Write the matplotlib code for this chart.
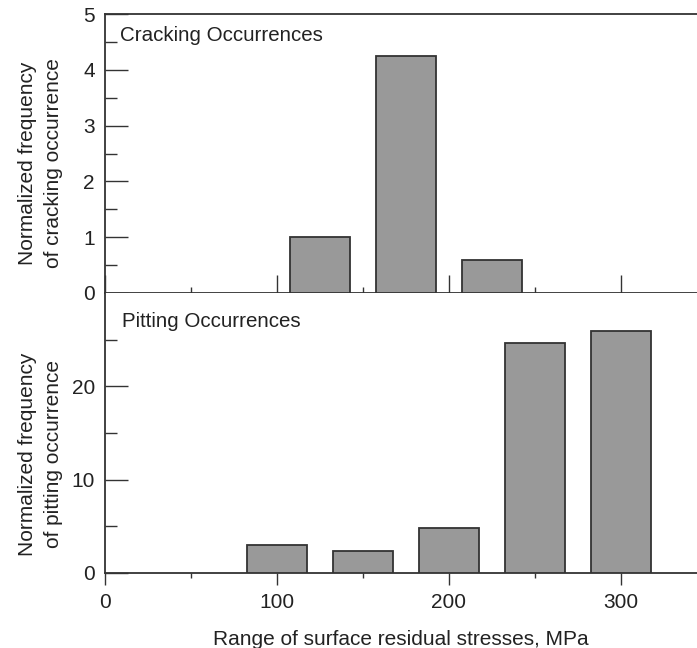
import matplotlib
matplotlib.use("Agg")
import matplotlib.pyplot as plt

plt.rcParams["font.family"] = ["Liberation Sans", "DejaVu Sans"]

# --- data ---
crack_x = [125, 175, 225]
crack_y = [1.0, 4.25, 0.6]
pit_x = [100, 150, 200, 250, 300]
pit_y = [3.0, 2.4, 4.8, 24.6, 25.9]
bar_w = 35

x_major = [0, 100, 200, 300]
x_minor = [50, 150, 250]

txt = "#222222"
line = "#333333"
fill = "#999999"
fs = 15

fig = plt.figure(figsize=(6.97, 6.48), dpi=100)
left, right = 0.15, 1.0
y_mid = 1 - 293 / 648
ax_top = fig.add_axes([left, y_mid, right - left, (1 - 14 / 648) - y_mid])
ax_bot = fig.add_axes([left, 1 - 573 / 648, right - left, y_mid - (1 - 573 / 648)])

for ax in (ax_top, ax_bot):
    ax.set_xlim(0, 344)
    ax.spines["right"].set_visible(False)
    for s in ax.spines.values():
        s.set_linewidth(1.3)
        s.set_color(line)
    ax.tick_params(axis="y", which="major", direction="in", length=16.5, width=1.0,
                   color=line, labelsize=fs, labelcolor=txt, pad=7)
    ax.tick_params(axis="y", which="minor", direction="in", length=8.5, width=1.0, color=line)

# --- top panel: cracking ---
ax_top.bar(crack_x, crack_y, width=bar_w, color=fill, edgecolor=line, linewidth=1.3, zorder=3)
ax_top.set_ylim(0, 5)
ax_top.set_yticks([0, 1, 2, 3, 4, 5])
ax_top.set_yticks([0.5, 1.5, 2.5, 3.5, 4.5], minor=True)
ax_top.set_xticks(x_major)
ax_top.set_xticks(x_minor, minor=True)
ax_top.tick_params(axis="x", which="major", direction="in", length=13, width=1.0,
                   color=line, labelbottom=False)
ax_top.tick_params(axis="x", which="minor", direction="in", length=4.5, width=1.0, color=line)
ax_top.text(0.026, 0.923, "Cracking Occurrences", transform=ax_top.transAxes,
            fontsize=14.8, color=txt, va="center", ha="left")
ax_top.set_ylabel("Normalized frequency\nof cracking occurrence", fontsize=fs,
                  color=txt, linespacing=1.45)
ax_top.yaxis.set_label_coords(-0.07, 0.466)

# --- bottom panel: pitting ---
ax_bot.bar(pit_x, pit_y, width=bar_w, color=fill, edgecolor=line, linewidth=1.3, zorder=3)
ax_bot.spines["top"].set_visible(False)
ax_bot.set_ylim(0, 30)
ax_bot.set_yticks([0, 10, 20])
ax_bot.set_yticks([5, 15, 25], minor=True)
ax_bot.set_xticks(x_major)
ax_bot.set_xticks(x_minor, minor=True)
ax_bot.tick_params(axis="x", which="major", direction="out", length=8.5, width=1.0,
                   color=line, labelsize=fs, labelcolor=txt, pad=6)
ax_bot.tick_params(axis="x", which="minor", direction="out", length=3.5, width=1.0, color=line)
ax_bot.text(0.03, 0.8975, "Pitting Occurrences", transform=ax_bot.transAxes,
            fontsize=14.8, color=txt, va="center", ha="left")
ax_bot.set_ylabel("Normalized frequency\nof pitting occurrence", fontsize=fs,
                  color=txt, linespacing=1.45)
ax_bot.yaxis.set_label_coords(-0.07, 0.425)
ax_bot.set_xlabel("Range of surface residual stresses, MPa", fontsize=fs,
                  color=txt, labelpad=13)

fig.savefig("out.png", dpi=100)
